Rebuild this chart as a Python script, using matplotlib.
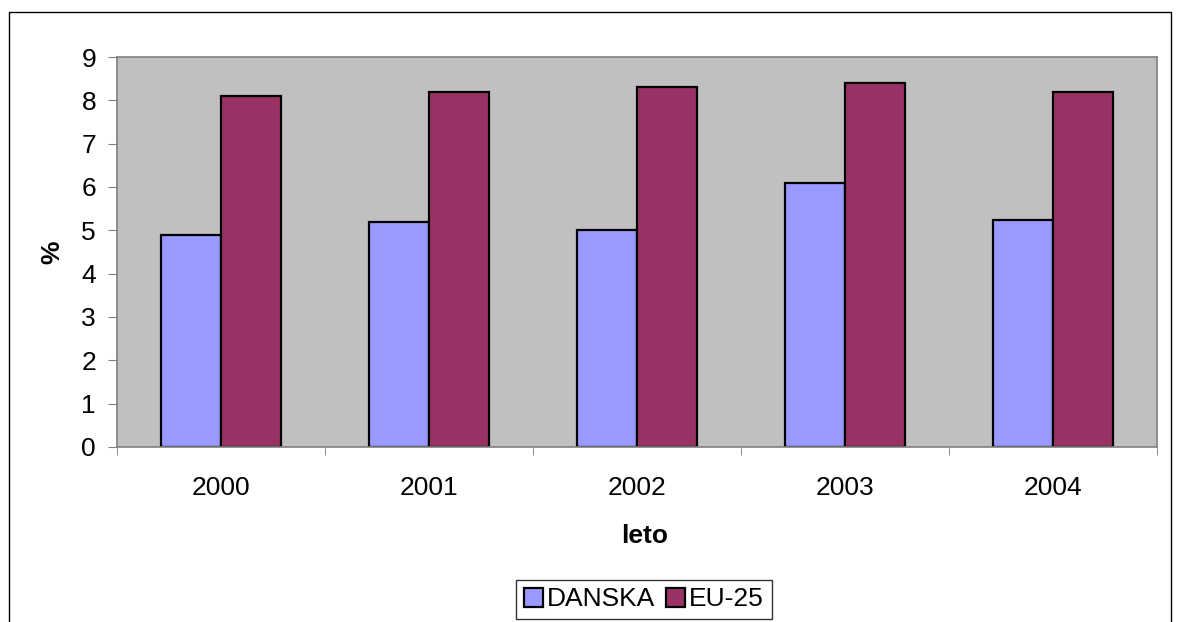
import numpy as np
import matplotlib.pyplot as plt
from matplotlib.patches import Rectangle

# podatki
leta = ["2000", "2001", "2002", "2003", "2004"]
danska = [4.9, 5.2, 5.0, 6.1, 5.25]
eu25 = [8.1, 8.2, 8.3, 8.4, 8.2]

plt.rcParams['font.family'] = ['Liberation Sans', 'DejaVu Sans']
fs = 19

W, H = 1182, 622
fig = plt.figure(figsize=(W/100, H/100), dpi=100)
ax = fig.add_axes([117/W, 1 - 447/H, 1040/W, 390/H])

x = np.arange(len(leta))
w = 0.288
ax.bar(x - w/2, danska, w, color="#9999FF", edgecolor="black", linewidth=1.6, label="DANSKA")
ax.bar(x + w/2, eu25, w, color="#993366", edgecolor="black", linewidth=1.6, label="EU-25")

ax.set_facecolor("#C0C0C0")
ax.set_xlim(-0.5, len(leta) - 0.5)
ax.set_ylim(0, 9)
ax.set_yticks(range(10))
ax.tick_params(axis="y", labelsize=fs, length=6.5, color="#808080", pad=8.6)
ax.set_xticks(x)
ax.set_xticklabels(leta, fontsize=fs)
ax.tick_params(axis="x", length=0, pad=21)
# oznake med kategorijami
ax.set_xticks(np.arange(len(leta) + 1) - 0.5, minor=True)
ax.tick_params(axis="x", which="minor", length=6, color="#808080", direction="out")
for s in ax.spines.values():
    s.set_color("#808080")
    s.set_linewidth(1.2)

# naslova osi
fig.text(645/W, 1 - 543/H, "leto", fontsize=fs, fontweight="bold", ha="center", va="baseline")
fig.text(52/W, 1 - 252/H, "%", fontsize=fs, fontweight="bold", rotation=90, ha="center", va="center")

leg = fig.legend(loc="center", bbox_to_anchor=(644/W, 1 - 599.5/H), bbox_transform=fig.transFigure,
                 ncol=2, fontsize=fs, frameon=True, fancybox=False, edgecolor="black",
                 handlelength=0.72, handleheight=0.75, handletextpad=0.15, columnspacing=0.4,
                 borderpad=0.3, borderaxespad=0)
leg.get_frame().set_linewidth(1.0)

# okvir grafikona
fig.patches.append(Rectangle((9/W, -0.05), 1162/W, 1 - 12/H + 0.05,
                             transform=fig.transFigure, fill=False,
                             edgecolor="black", linewidth=1.0))

fig.savefig("out.png", dpi=100)
